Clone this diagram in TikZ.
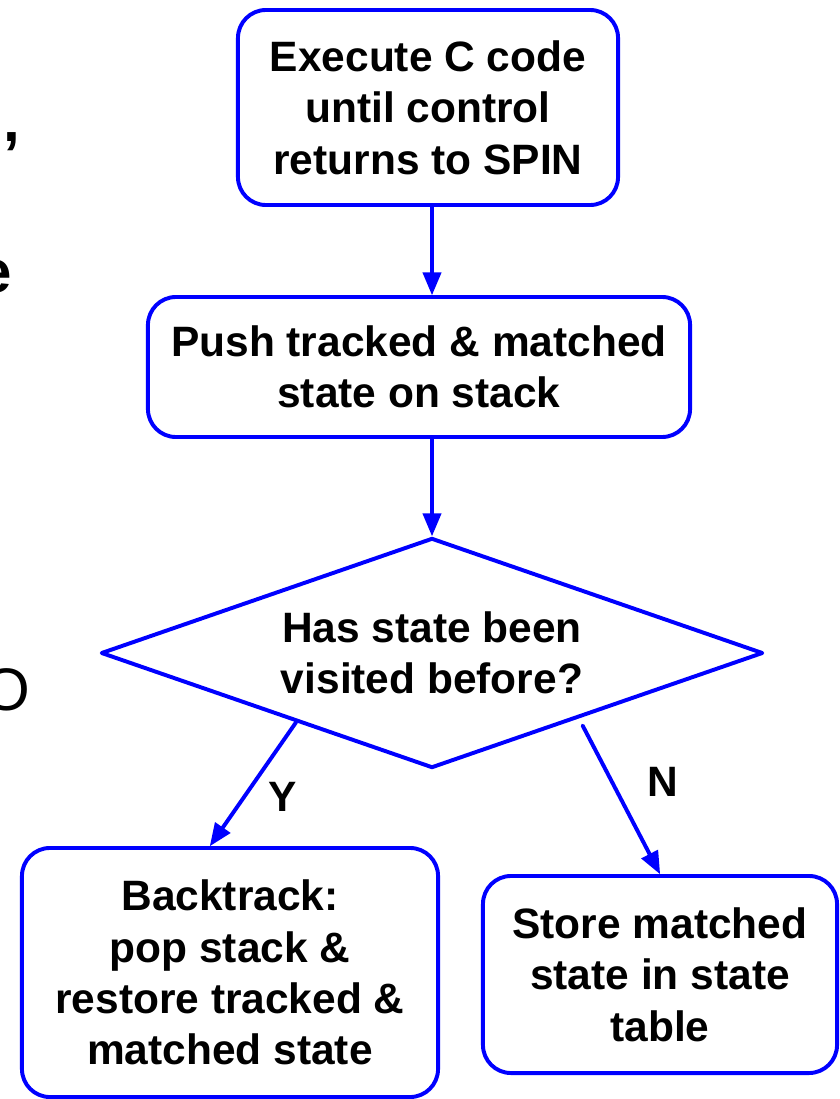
\documentclass[tikz,border=0pt]{standalone}
\usepackage{fontspec}
\setmainfont{Liberation Sans}
\usetikzlibrary{arrows,shapes.geometric}

\begin{document}
\begin{tikzpicture}[line cap=round,line join=round,>=triangle 45,x=0.025cm,y=-0.025cm,
  box/.style={draw=blue,line width=2.8pt,rounded corners=0.7cm,align=center,inner sep=0pt,font=\bfseries\fontsize{30.2}{36.5}\selectfont},
  decision/.style={draw=blue,line width=2.8pt,shape=diamond,aspect=2.88,inner sep=0pt,align=center,minimum width=16.55cm,minimum height=5.75cm,font=\bfseries\fontsize{30.2}{36.5}\selectfont},
  link/.style={->,draw=blue,line width=2.8pt},
  lbl/.style={font=\bfseries\fontsize{30.2}{36.5}\selectfont},
  edgetxt/.style={anchor=base west,inner sep=0pt,font=\fontsize{42.7}{50}\selectfont},
  edgebold/.style={anchor=base west,inner sep=0pt,font=\bfseries\fontsize{42.7}{50}\selectfont}]
\useasboundingbox (0,0) rectangle (840,1099);
\clip (0,0) rectangle (840,1099);
% cut-off slide text at the left edge
\node[edgebold] (comma) at (3,141) {,};
\node[edgebold] (elet) at (-22,292) {e};
\node[edgetxt] (olet) at (-17,710) {O};
% flow chart
\node[box,minimum width=9.5cm,minimum height=4.875cm] (exec) at (428,107.5) {Execute C code\\until control\\returns to SPIN};
\node[box,minimum width=13.55cm,minimum height=3.5cm] (push) at (419,367) {Push tracked \& matched\\state on stack};
\node[decision] (visited) at (432,653) {Has state been\\visited before?};
\node[box,minimum width=10.4cm,minimum height=6.225cm] (back) at (230,972.5) {Backtrack:\\pop stack \&\\restore tracked \&\\matched state};
\node[box,minimum width=8.85cm,minimum height=4.925cm] (store) at (660,974.5) {Store matched\\state in state\\table};
\draw[link] (exec.south -| visited.north) -- (push.north -| visited.north);
\draw[link] (push.south -| visited.north) -- (visited.north);
\draw[link] (visited.207) -- (back.99);
\draw[link,shorten <=0.2cm] (visited.336) -- (store.north);
\node[lbl] (ylbl) at (283,797) {Y};
\node[lbl] (nlbl) at (663,782) {N};
\end{tikzpicture}
\end{document}
